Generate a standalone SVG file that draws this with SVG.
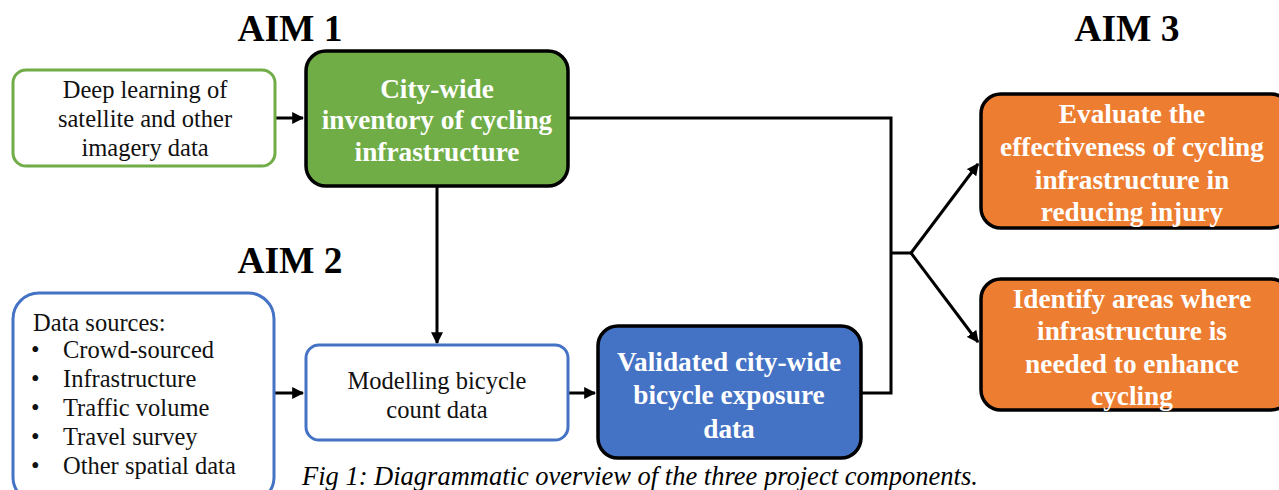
<svg xmlns="http://www.w3.org/2000/svg" width="1279" height="490" viewBox="0 0 1279 490" font-family="Liberation Serif, Tinos, Times New Roman, serif">
<style>
.aim{font-size:37.5px;font-weight:bold;fill:#000;text-anchor:middle;}
.reg{font-size:24.5px;fill:#111;}
.c{text-anchor:middle;}
.bw{font-size:27.3px;font-weight:bold;fill:#fff;text-anchor:middle;}
.line{fill:none;stroke:#000;stroke-width:3;}
</style>
<defs>
<marker id="ah" viewBox="0 0 10 10" refX="9" refY="5" markerWidth="4" markerHeight="4" orient="auto" markerUnits="strokeWidth">
<path d="M0,0 L10,5 L0,10 z" fill="#000"/>
</marker>
</defs>
<rect width="1279" height="490" fill="#fff"/>
<text class="aim" x="290" y="41">AIM 1</text>
<text class="aim" x="290" y="273">AIM 2</text>
<text class="aim" x="1127" y="41">AIM 3</text>
<g id="connectors">
<path class="line" d="M275,118 H303" marker-end="url(#ah)"/>
<path class="line" d="M437,186 V343" marker-end="url(#ah)"/>
<path class="line" d="M274,393 H303" marker-end="url(#ah)"/>
<path class="line" d="M568,393 H595" marker-end="url(#ah)"/>
<path class="line" d="M568,118 H891 V393 H861"/>
<path class="line" d="M891,253 H911"/>
<path class="line" d="M911,253 L978,164" marker-end="url(#ah)"/>
<path class="line" d="M911,253 L978,342" marker-end="url(#ah)"/>
</g>
<g id="deep-learning">
<rect x="13" y="70" width="262" height="96" rx="13" fill="#fff" stroke="#70AD47" stroke-width="3"/>
<text class="reg c" x="145" y="98">Deep learning of</text>
<text class="reg c" x="145" y="127">satellite and other</text>
<text class="reg c" x="145" y="156">imagery data</text>
</g>
<g id="inventory">
<rect x="306" y="51" width="262" height="135" rx="20" fill="#70AD47" stroke="#000" stroke-width="3.5"/>
<text class="bw" x="437" y="98">City-wide</text>
<text class="bw" x="437" y="129">inventory of cycling</text>
<text class="bw" x="437" y="161">infrastructure</text>
</g>
<g id="data-sources">
<rect x="13" y="293" width="261" height="210" rx="26" fill="#fff" stroke="#4472C4" stroke-width="3"/>
<text class="reg" x="33" y="331">Data sources:</text>
<text class="reg" x="31" y="358">•</text><text class="reg" x="63" y="358">Crowd-sourced</text>
<text class="reg" x="31" y="387">•</text><text class="reg" x="63" y="387">Infrastructure</text>
<text class="reg" x="31" y="416">•</text><text class="reg" x="63" y="416">Traffic volume</text>
<text class="reg" x="31" y="445">•</text><text class="reg" x="63" y="445">Travel survey</text>
<text class="reg" x="31" y="474">•</text><text class="reg" x="63" y="474">Other spatial data</text>
</g>
<g id="modelling">
<rect x="306" y="345" width="262" height="95" rx="13" fill="#fff" stroke="#4472C4" stroke-width="3"/>
<text class="reg c" x="437" y="389">Modelling bicycle</text>
<text class="reg c" x="437" y="418">count data</text>
</g>
<g id="validated">
<rect x="598" y="326" width="263" height="132" rx="20" fill="#4472C4" stroke="#000" stroke-width="3.5"/>
<text class="bw" x="729" y="371">Validated city-wide</text>
<text class="bw" x="729" y="404">bicycle exposure</text>
<text class="bw" x="729" y="438">data</text>
</g>
<g id="evaluate">
<rect x="981" y="94" width="310" height="134" rx="20" fill="#ED7D31" stroke="#000" stroke-width="3.5"/>
<text class="bw" x="1132" y="123">Evaluate the</text>
<text class="bw" x="1132" y="156">effectiveness of cycling</text>
<text class="bw" x="1132" y="189">infrastructure in</text>
<text class="bw" x="1132" y="221">reducing injury</text>
</g>
<g id="identify">
<rect x="981" y="279" width="310" height="131" rx="20" fill="#ED7D31" stroke="#000" stroke-width="3.5"/>
<text class="bw" x="1132" y="308">Identify areas where</text>
<text class="bw" x="1132" y="340">infrastructure is</text>
<text class="bw" x="1132" y="373">needed to enhance</text>
<text class="bw" x="1132" y="405">cycling</text>
</g>
<text x="302" y="485" font-size="26.5" font-style="italic" fill="#000">Fig 1: Diagrammatic overview of the three project components.</text>
</svg>
